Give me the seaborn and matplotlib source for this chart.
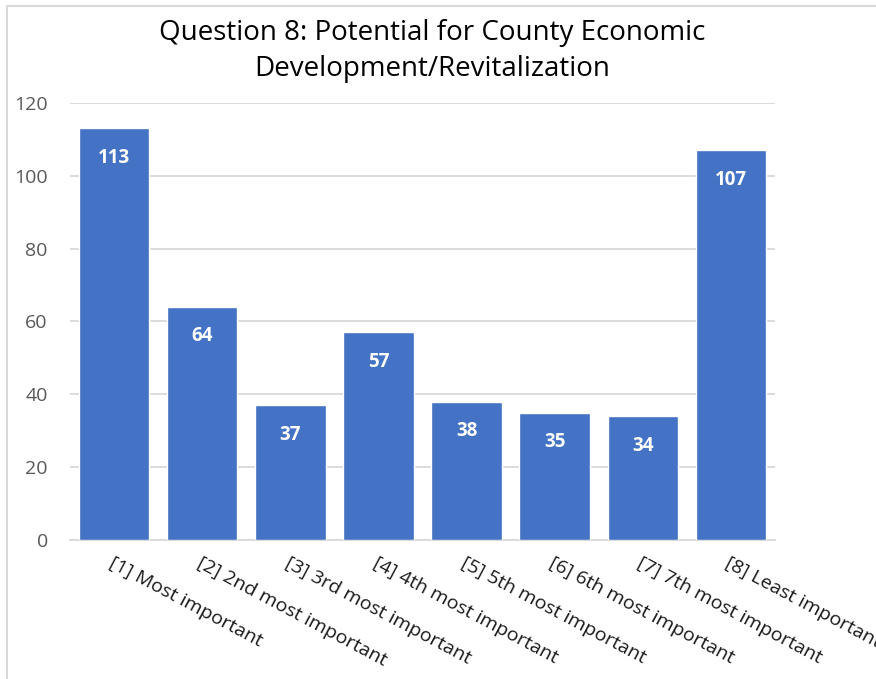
import numpy as np
import pandas as pd
import seaborn as sns
import matplotlib.pyplot as plt
from matplotlib.patches import Rectangle

categories = ["[1] Most important", "[2] 2nd most important", "[3] 3rd most important",
              "[4] 4th most important", "[5] 5th most important", "[6] 6th most important",
              "[7] 7th most important", "[8] Least important"]
counts = [113, 64, 37, 57, 38, 35, 34, 107]
yticks = [0, 20, 40, 60, 80, 100, 120]

title = "Question 8: Potential for County Economic\nDevelopment/Revitalization"

sns.set_style("white")
plt.rcParams['font.family'] = ['Open Sans', 'DejaVu Sans']

df = pd.DataFrame({"category": categories, "count": counts})

fig = plt.figure(figsize=(8.76, 6.79), dpi=100)
ax = fig.add_axes([70 / 876, 1 - 540 / 679, 705 / 876, 437 / 679])

sns.barplot(data=df, x="category", y="count", color="#4472C4", saturation=1,
            width=0.8, ax=ax, zorder=3)

ax.set_ylim(0, 120)
ax.set_xlim(-0.5, len(categories) - 0.5)
ax.set_yticks(yticks)
ax.set_yticklabels([str(t) for t in yticks], color="#595959", fontsize=14)
ax.grid(axis="y", color="#D9D9D9", linewidth=1.3, zorder=0)
ax.set_axisbelow(True)
for s in ["top", "right", "left"]:
    ax.spines[s].set_visible(False)
ax.spines["bottom"].set_color("#D9D9D9")
ax.spines["bottom"].set_linewidth(1.3)
ax.tick_params(axis="y", length=0, pad=16)
ax.tick_params(axis="x", length=0, pad=10)
ax.set_xlabel("")
ax.set_ylabel("")

ax.set_xticks(range(len(categories)))
ax.set_xticklabels(categories, rotation=-28, ha="left", va="top",
                   rotation_mode="anchor", fontsize=14, color="#1a1a1a")

# value labels inside bar tops
for p, v in zip(ax.patches, counts):
    ax.annotate(str(v), (p.get_x() + p.get_width() / 2, v), xytext=(0, -14),
                textcoords="offset points", ha="center", va="top",
                color="white", fontsize=13.5, fontweight="bold", zorder=4)

fig.text(432 / 876, 1 - 51 / 679, title, ha="center", va="center",
         fontsize=20, linespacing=1.4, color="black")

# chart frame (left and top edges visible)
fig.patches.append(Rectangle((7 / 876, -0.1), 2, 1.1 - 6 / 679, transform=fig.transFigure,
                             fill=False, edgecolor="#D9D9D9", linewidth=1.5))

fig.savefig("out.png", dpi=100)
